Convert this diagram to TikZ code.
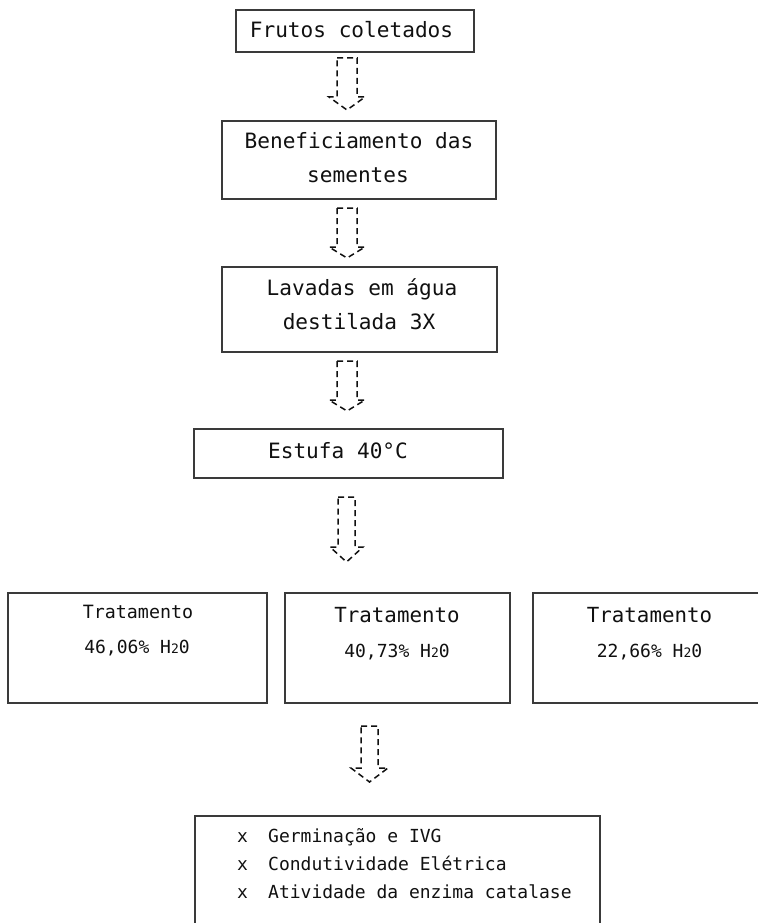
\documentclass[tikz,border=0pt]{standalone}
\usepackage{fontspec}
\setmonofont{DejaVu Sans Mono}
\newcommand\mono[1]{\fontsize{#1}{#1}\selectfont\ttfamily}
\newcommand\subtwo{{\fontsize{13}{13}\selectfont 2}}
\definecolor{boxgray}{HTML}{3A3A3A}
\definecolor{ink}{HTML}{101010}
\tikzset{
  box/.style={draw=boxgray, line width=1.4pt, rectangle, inner sep=0pt},
  openbox/.style={draw=boxgray, line width=1.4pt},
  lbl/.style={anchor=base, inner sep=0pt, text=ink},
  lblw/.style={anchor=base west, inner sep=0pt, text=ink},
  arrowline/.style={draw=ink, line width=1.5pt, dash pattern=on 6pt off 4pt, line join=miter},
  % dashed block arrow: half shaft width, half head width, shaft length, head height
  pics/downarrow/.style n args={4}{code={
    \draw[arrowline] (-#1,0) -- (#1,0) -- (#1,#3) -- (#2,#3) -- (0,#3+#4)
      -- (-#2,#3) -- (-#1,#3) -- cycle;
  }}
}
\begin{document}
\begin{tikzpicture}[x=1pt, y=-1pt]
\useasboundingbox (0,0) rectangle (758,923);

% process boxes
\node[box, minimum width=238pt, minimum height=42pt] (b1) at (355,31) {};
\node[box, minimum width=274pt, minimum height=78pt] (b2) at (359,160) {};
\node[box, minimum width=275pt, minimum height=85pt] (b3) at (359.5,309.5) {};
\node[box, minimum width=309pt, minimum height=49pt] (b4) at (348.5,453.5) {};
\node[box, minimum width=259pt, minimum height=110pt] (tA) at (137.5,648) {};
\node[box, minimum width=225pt, minimum height=110pt] (tB) at (397.5,648) {};
\draw[openbox] (758,593) -- (533,593) -- (533,703) -- (758,703);
\draw[openbox] (195,923) -- (195,816) -- (600,816) -- (600,923);

% box texts
\node[lbl, font=\mono{21.1}] (l1) at (351.5,38) {Frutos coletados};
\node[lbl, font=\mono{21.1}] (l2a) at (359,148) {Beneficiamento das};
\node[lbl, font=\mono{21.1}] (l2b) at (358,182) {sementes};
\node[lbl, font=\mono{21.1}] (l3a) at (362,295) {Lavadas em água};
\node[lbl, font=\mono{21.1}] (l3b) at (359,329) {destilada 3X};
\node[lbl, font=\mono{21.1}] (l4) at (338,458) {Estufa 40°C};

\node[lbl, font=\mono{18.3}] (tAa) at (138,618) {Tratamento};
\node[lbl, font=\mono{18}] (tAb) at (137,653) {46,06\% H\subtwo 0};
\node[lbl, font=\mono{20.8}] (tBa) at (397,622) {Tratamento};
\node[lbl, font=\mono{18}] (tBb) at (397,657) {40,73\% H\subtwo 0};
\node[lbl, font=\mono{20.8}] (tCa) at (649.5,622) {Tratamento};
\node[lbl, font=\mono{18}] (tCb) at (649.5,657) {22,66\% H\subtwo 0};

% list of evaluations
\node[lblw, font=\mono{18}] (x1) at (237,842) {x};
\node[lblw, font=\mono{18}] (x2) at (237,870) {x};
\node[lblw, font=\mono{18}] (x3) at (237,898) {x};
\node[lblw, font=\mono{18}] (r1) at (268,842) {Germinação e IVG};
\node[lblw, font=\mono{18}] (r2) at (268,870) {Condutividade Elétrica};
\node[lblw, font=\mono{18}] (r3) at (268,898) {Atividade da enzima catalase};

% dashed block arrows between the steps
\coordinate (a1) at (347,58);
\coordinate (a2) at (347,208);
\coordinate (a3) at (347,361);
\coordinate (a4) at (346.5,497);
\coordinate (a5) at (369.5,726);
\pic at (a1) {downarrow={10}{18}{39}{13}};
\pic at (a2) {downarrow={10}{18}{39}{11}};
\pic at (a3) {downarrow={10}{18}{39}{11}};
\pic at (a4) {downarrow={8.5}{16.5}{50}{15}};
\pic at (a5) {downarrow={8.5}{18.5}{42}{14}};
\end{tikzpicture}
\end{document}
